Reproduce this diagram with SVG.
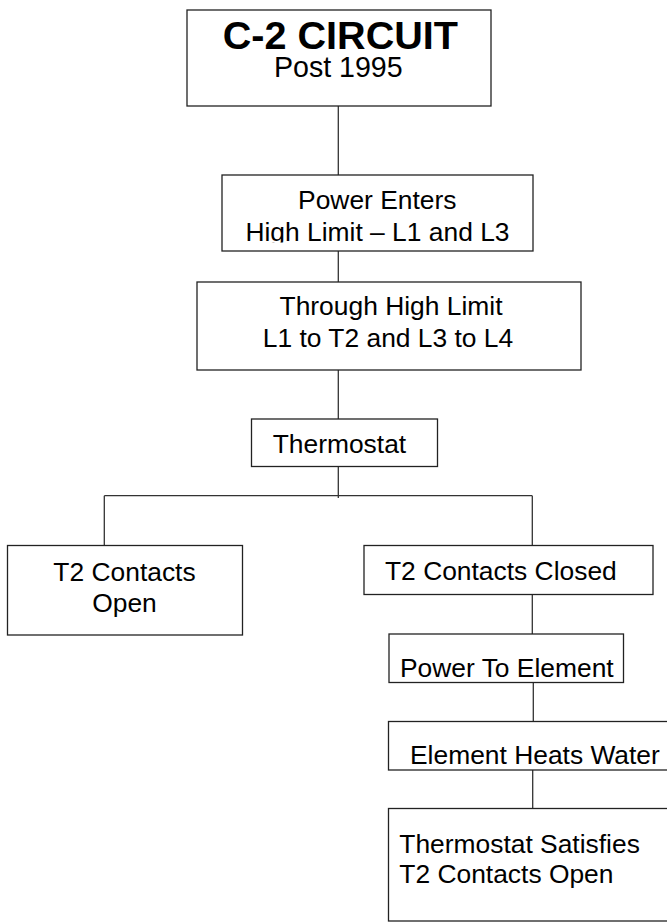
<svg xmlns="http://www.w3.org/2000/svg" width="667" height="922" viewBox="0 0 667 922">
<style>
  .box { fill: #ffffff; stroke: #222222; stroke-width: 1.3; }
  .wire { fill: none; stroke: #333333; stroke-width: 1.3; }
  .t { font-family: "Liberation Sans", Arial, sans-serif; font-size: 26.4px; fill: #000000; }
  .c { text-anchor: middle; }
  .title { font-family: "Liberation Sans", Arial, sans-serif; font-size: 39.6px; font-weight: bold; fill: #000000; text-anchor: middle; }
  .sub { font-family: "Liberation Sans", Arial, sans-serif; font-size: 28.6px; fill: #000000; text-anchor: middle; }
</style>
<defs>
  <clipPath id="clipPower">
    <rect x="222" y="175" width="311" height="67.5"/>
  </clipPath>
</defs>
<rect x="0" y="0" width="667" height="922" fill="#ffffff"/>
<g id="connectors">
  <line class="wire" x1="338.3" y1="106" x2="338.3" y2="175"/>
  <line class="wire" x1="338.3" y1="251" x2="338.3" y2="282"/>
  <line class="wire" x1="338.3" y1="370" x2="338.3" y2="419"/>
  <line class="wire" x1="338.3" y1="466.5" x2="338.3" y2="498"/>
  <line class="wire" x1="104.3" y1="495.7" x2="532.3" y2="495.7"/>
  <line class="wire" x1="104.3" y1="495.7" x2="104.3" y2="545.5"/>
  <line class="wire" x1="532.3" y1="495.7" x2="532.3" y2="545.5"/>
  <line class="wire" x1="532.3" y1="594.5" x2="532.3" y2="634"/>
  <line class="wire" x1="533.3" y1="682.5" x2="533.3" y2="721.5"/>
  <line class="wire" x1="532.7" y1="768" x2="532.7" y2="808.5"/>
</g>
<g id="node-title">
  <rect class="box" x="187" y="10" width="304" height="96"/>
  <text class="title" x="340.4" y="49">C-2 CIRCUIT</text>
  <text class="sub" x="338.3" y="77">Post 1995</text>
</g>
<g id="node-power-enters">
  <rect class="box" x="222" y="175" width="311" height="76"/>
  <g clip-path="url(#clipPower)">
    <text class="t c" x="377.3" y="209.3">Power Enters</text>
    <text class="t c" x="377.5" y="240.5">High Limit – L1 and L3</text>
  </g>
</g>
<g id="node-through">
  <rect class="box" x="197" y="282" width="384" height="88"/>
  <text class="t c" x="391" y="315">Through High Limit</text>
  <text class="t c" x="388" y="347.3">L1 to T2 and L3 to L4</text>
</g>
<g id="node-thermostat">
  <rect class="box" x="251.5" y="419" width="186" height="47.5"/>
  <text class="t" x="272.7" y="453.3">Thermostat</text>
</g>
<g id="node-open">
  <rect class="box" x="7.5" y="545.5" width="235" height="89.5"/>
  <text class="t c" x="124.5" y="581">T2 Contacts</text>
  <text class="t c" x="124.5" y="611.7">Open</text>
</g>
<g id="node-closed">
  <rect class="box" x="364" y="545.5" width="289" height="49"/>
  <text class="t" x="385" y="580">T2 Contacts Closed</text>
</g>
<g id="node-power-element">
  <rect class="box" x="389" y="634" width="234.5" height="48.5"/>
  <text class="t" x="400" y="676.7">Power To Element</text>
</g>
<g id="node-heats">
  <rect class="box" x="388.5" y="721.5" width="290" height="48.5"/>
  <text class="t" x="410" y="764.3">Element Heats Water</text>
</g>
<g id="node-satisfies">
  <rect class="box" x="388.5" y="808.5" width="290" height="112.5"/>
  <text class="t" x="399.3" y="853.3">Thermostat Satisfies</text>
  <text class="t" x="399.3" y="883.3">T2 Contacts Open</text>
</g>
</svg>
